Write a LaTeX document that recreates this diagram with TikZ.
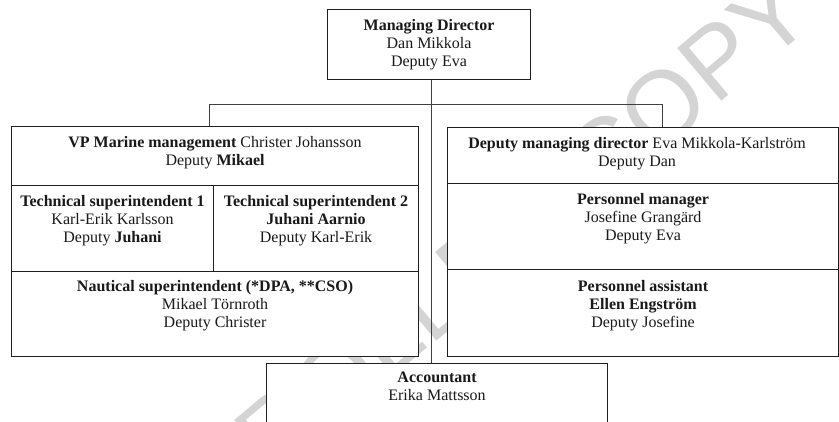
\documentclass[tikz,border=0pt]{standalone}
\usepackage{fontspec}
\setmainfont{Liberation Serif}
\newfontfamily\wmfont{Liberation Sans}
\newcommand\fnt{\fontsize{16}{18}\selectfont}
\begin{document}
\begin{tikzpicture}[x=1pt,y=-1pt,
  box/.style={draw=black!88, line width=1.1pt, fill=white, inner sep=0pt, anchor=north west},
  lbl/.style={anchor=north, align=center, inner sep=0pt, font=\fnt, text=black!90},
  conn/.style={draw=black!75, line width=1pt},
  wm/.style={font=\wmfont\fontsize{100}{100}\selectfont, text=black!17, inner sep=0pt}]
\useasboundingbox (0,0) rectangle (839,421);
% watermark
\node[wm, rotate=40, anchor=base east] (wmk) at (818,21) {UNCONTROLLED COPY};
% boxes
\node[box, minimum width=203pt, minimum height=70pt] (md) at (327,9) {};
\node[box, minimum width=407pt, minimum height=59pt] (vp) at (11,126) {};
\node[box, minimum width=202pt, minimum height=86pt] (ts1) at (11,185) {};
\node[box, minimum width=205pt, minimum height=86pt] (ts2) at (213,185) {};
\node[box, minimum width=407pt, minimum height=85pt] (naut) at (11,271) {};
\node[box, minimum width=391pt, minimum height=56pt] (dmd) at (447,127) {};
\node[box, minimum width=391pt, minimum height=86pt] (pm) at (447,183) {};
\node[box, minimum width=391pt, minimum height=87pt] (pa) at (447,269) {};
\node[box, minimum width=341pt, minimum height=80pt] (acc) at (266,363) {};
% connectors
\coordinate (spine) at (431,0);
\coordinate (lb) at (209,104);
\coordinate (rb) at (662,104);
\draw[conn] (spine |- md.south) -- (spine |- acc.north);
\draw[conn] (lb |- vp.north) -- (lb) -- (rb) -- (rb |- dmd.north);
% labels
\node[lbl] (mdt) at ([yshift=-10pt]md.north) {\textbf{Managing Director}\\Dan Mikkola\\Deputy Eva};
\node[lbl] (vpt) at ([yshift=-10pt]vp.north) {\textbf{VP Marine management} Christer Johansson\\Deputy \textbf{Mikael}};
\node[lbl] (ts1t) at ([yshift=-10pt]ts1.north) {\textbf{Technical superintendent 1}\\Karl-Erik Karlsson\\Deputy \textbf{Juhani}};
\node[lbl] (ts2t) at ([yshift=-10pt]ts2.north) {\textbf{Technical superintendent 2}\\\textbf{Juhani Aarnio}\\Deputy Karl-Erik};
\node[lbl] (nautt) at ([yshift=-9pt]naut.north) {\textbf{Nautical superintendent (*DPA, **CSO)}\\Mikael Törnroth\\Deputy Christer};
\node[lbl] (dmdt) at ([xshift=-6pt,yshift=-10pt]dmd.north) {\textbf{Deputy managing director} Eva Mikkola-Karlström\\Deputy Dan};
\node[lbl] (pmt) at ([yshift=-10pt]pm.north) {\textbf{Personnel manager}\\Josefine Grangärd\\Deputy Eva};
\node[lbl] (pat) at ([yshift=-11pt]pa.north) {\textbf{Personnel assistant}\\\textbf{Ellen Engström}\\Deputy Josefine};
\node[lbl] (acct) at ([yshift=-9pt]acc.north) {\textbf{Accountant}\\Erika Mattsson};
\end{tikzpicture}
\end{document}
